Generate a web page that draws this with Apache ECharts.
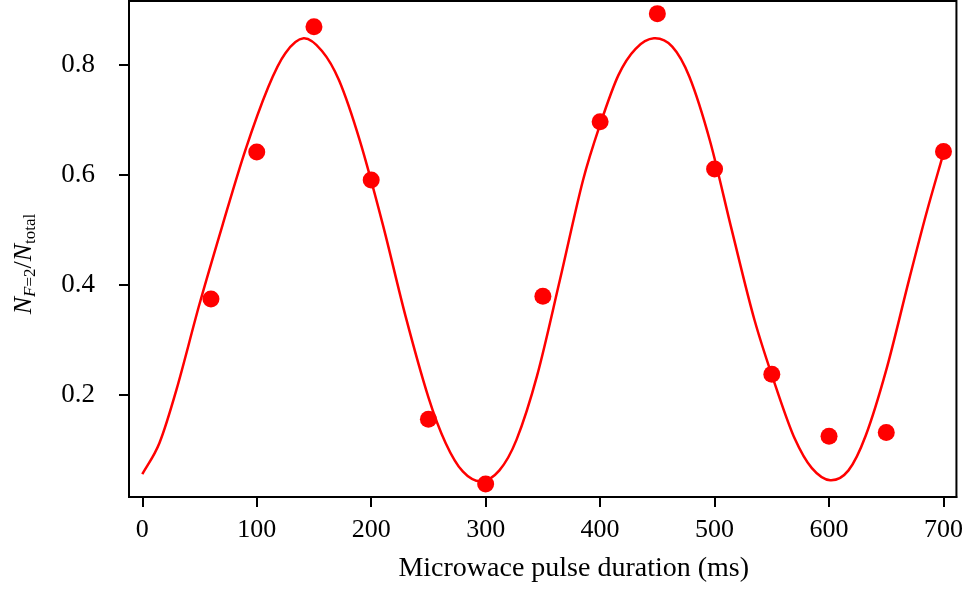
<!DOCTYPE html>
<html>
<head>
<meta charset="utf-8">
<script src="https://cdn.jsdelivr.net/npm/echarts@6/dist/echarts.min.js"></script>
<style>
  html, body { margin: 0; padding: 0; background: #fff; }
  #chart { width: 966px; height: 590px; }
</style>
</head>
<body>
<div id="chart"></div>
<script>
// Measured population ratio vs microwave pulse duration
const pulseDurations = [60, 100, 150, 200, 250, 300, 350, 400, 450, 500, 550, 600, 650, 700];
const populationRatio = [0.374, 0.642, 0.870, 0.591, 0.155, 0.037, 0.379, 0.697, 0.894, 0.611, 0.237, 0.124, 0.131, 0.643];

// Fitted Rabi oscillation curve, sampled along the trace (peaks and troughs included)
const fitDurations = [0, 15, 30, 50, 70, 90, 110, 125, 141, 157, 172, 190, 210, 230, 250, 265, 280, 296, 312, 327, 345, 365, 385, 400, 416, 431, 447, 463, 478, 496, 515, 535, 555, 570, 585, 601, 617, 632, 650, 670, 685, 700];
const fitRatio = [0.055, 0.112, 0.210, 0.365, 0.508, 0.645, 0.760, 0.822, 0.849, 0.826, 0.772, 0.663, 0.511, 0.343, 0.195, 0.112, 0.060, 0.042, 0.062, 0.118, 0.235, 0.410, 0.590, 0.692, 0.782, 0.830, 0.849, 0.834, 0.779, 0.662, 0.500, 0.335, 0.205, 0.120, 0.066, 0.044, 0.062, 0.125, 0.245, 0.410, 0.530, 0.640];

const xTicks = [0, 100, 200, 300, 400, 500, 600, 700];
const yTicks = [0.2, 0.4, 0.6, 0.8];

const serif = '"Liberation Serif", "DejaVu Serif", serif';
const chart = echarts.init(document.getElementById('chart'), null, { renderer: 'canvas' });

// Smooth curve through the fit samples: cubic Hermite segments with
// tangents taken from neighbouring samples (parameterised along x).
function fitCurvePath(api) {
  const pts = fitDurations.map((t, k) => api.coord([t, fitRatio[k]]));
  const n = pts.length;
  const slope = pts.map((p, i) => {
    const a = pts[Math.max(i - 1, 0)];
    const b = pts[Math.min(i + 1, n - 1)];
    return (b[1] - a[1]) / (b[0] - a[0]);
  });
  let d = 'M' + pts[0][0] + ' ' + pts[0][1];
  for (let i = 0; i < n - 1; i++) {
    const p = pts[i], q = pts[i + 1];
    const h = (q[0] - p[0]) / 3;
    d += ' C' + (p[0] + h) + ' ' + (p[1] + slope[i] * h) + ' ' +
         (q[0] - h) + ' ' + (q[1] - slope[i + 1] * h) + ' ' + q[0] + ' ' + q[1];
  }
  return d;
}

chart.setOption({
  animation: false,
  backgroundColor: '#fff',
  grid: {
    left: 129, right: 8, top: 1, bottom: 93,
    show: true, borderColor: '#000', borderWidth: 2
  },
  xAxis: {
    type: 'value',
    min: -11.6, max: 711.3,
    name: 'Microwace pulse duration (ms)',
    nameLocation: 'middle',
    nameGap: 58,
    nameTextStyle: { fontFamily: serif, fontSize: 28, color: '#000', padding: [0, 0, 0, 62] },
    axisLine: { show: true, onZero: false, lineStyle: { color: '#000', width: 2 } },
    axisTick: { show: true, inside: false, length: 10, customValues: xTicks, lineStyle: { color: '#000', width: 2 } },
    axisLabel: { customValues: xTicks, margin: 20, fontFamily: serif, fontSize: 26, color: '#000' },
    splitLine: { show: false }
  },
  yAxis: {
    type: 'value',
    min: 0.0135, max: 0.917,
    name: '{i|N}{si|F}{s|=2}{r|/}{i|N}{s|total}',
    nameLocation: 'middle',
    nameRotate: 90,
    nameGap: 88,
    nameTextStyle: {
      fontFamily: serif, color: '#000',
      padding: [0, 30, 0, 0],
      rich: {
        i: { fontFamily: serif, fontStyle: 'italic', fontSize: 26, lineHeight: 30, verticalAlign: 'top', color: '#000' },
        r: { fontFamily: serif, fontSize: 26, lineHeight: 30, verticalAlign: 'top', color: '#000' },
        si: { fontFamily: serif, fontStyle: 'italic', fontSize: 17, verticalAlign: 'top', padding: [11, 0, 0, 0], color: '#000' },
        s: { fontFamily: serif, fontSize: 17, verticalAlign: 'top', padding: [11, 0, 0, 0], color: '#000' }
      }
    },
    axisLine: { show: true, onZero: false, lineStyle: { color: '#000', width: 2 } },
    axisTick: { show: true, inside: false, length: 10, customValues: yTicks, lineStyle: { color: '#000', width: 2 } },
    axisLabel: {
      customValues: yTicks, margin: 34, fontFamily: serif, fontSize: 27, color: '#000',
      formatter: v => v.toFixed(1)
    },
    splitLine: { show: false }
  },
  series: [
    {
      type: 'custom',
      data: fitDurations.map((t, k) => [t, fitRatio[k]]),
      clip: true,
      z: 2,
      renderItem: (params, api) => {
        if (params.dataIndex !== 0) return null;
        return {
          type: 'path',
          shape: { pathData: fitCurvePath(api) },
          style: { fill: 'none', stroke: '#ff0000', lineWidth: 2.5 }
        };
      }
    },
    {
      type: 'scatter',
      data: pulseDurations.map((t, k) => [t, populationRatio[k]]),
      symbol: 'circle',
      symbolSize: 17,
      itemStyle: { color: '#ff0000', opacity: 1 },
      z: 3
    }
  ]
});
</script>
</body>
</html>
